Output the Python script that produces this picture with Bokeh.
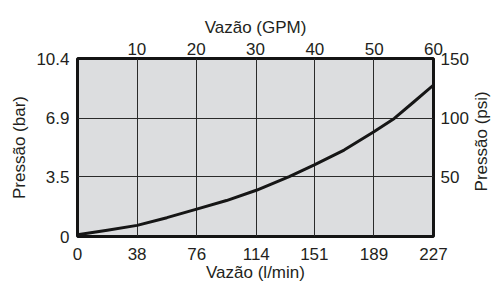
import math
from bokeh.plotting import figure
from bokeh.models import Range1d, LinearAxis, FixedTicker, NumeralTickFormatter
from bokeh.embed import file_html
from bokeh.resources import INLINE

# ---- data ----
flow_lpm = [0, 19, 38, 57, 76, 95, 114, 135, 151, 170, 189, 202, 214, 227]
pressure_bar = [0.1, 0.37, 0.65, 1.1, 1.6, 2.1, 2.7, 3.5, 4.18, 5.05, 6.12, 6.9, 7.83, 8.85]

lpm_ticks = [0, 38, 76, 114, 151, 189, 227]
bar_ticks = [0, 3.5, 6.9, 10.4]
gpm_ticks = [10, 20, 30, 40, 50, 60]
psi_ticks = [50, 100, 150]

x_label_bottom = "Vazão (l/min)"
x_label_top = "Vazão (GPM)"
y_label_left = "Pressão (bar)"
y_label_right = "Pressão (psi)"

# layout constant: psi level where the (bottom-to-top) right title starts
RIGHT_TITLE_START = 38

FONT = "Liberation Sans"
TXT = "#231f20"
FS = "17px"

p = figure(width=503, height=287, output_backend="svg", toolbar_location=None,
           title=None,
           x_range=Range1d(0, 227), y_range=Range1d(0, 10.4),
           min_border_left=77, min_border_right=66,
           min_border_top=58, min_border_bottom=51)

p.background_fill_color = "#dcdddf"
p.border_fill_color = "white"
p.outline_line_color = "#141414"
p.outline_line_width = 3

p.extra_x_ranges = {"gpm": Range1d(0, 60)}
p.extra_y_ranges = {"psi": Range1d(0, 150)}

bottom = p.below[0]
left = p.left[0]

bottom.ticker = FixedTicker(ticks=lpm_ticks)
left.ticker = FixedTicker(ticks=bar_ticks)
left.formatter = NumeralTickFormatter(format="0.[0]")
p.xgrid.ticker = FixedTicker(ticks=lpm_ticks)
p.ygrid.ticker = FixedTicker(ticks=bar_ticks)
for g in (p.xgrid, p.ygrid):
    g.grid_line_color = "#2a2a2a"
    g.grid_line_width = 1

bottom.axis_label = x_label_bottom
left.axis_label = y_label_left

top = LinearAxis(x_range_name="gpm", ticker=FixedTicker(ticks=gpm_ticks),
                 axis_label=x_label_top)
p.add_layout(top, "above")
right = LinearAxis(y_range_name="psi", ticker=FixedTicker(ticks=psi_ticks))
p.add_layout(right, "right")

# outer right axis that only carries the rotated title (reads bottom to top)
right_title = LinearAxis(y_range_name="psi",
                         ticker=FixedTicker(ticks=[RIGHT_TITLE_START]),
                         major_label_overrides={RIGHT_TITLE_START: y_label_right},
                         major_label_orientation=math.pi / 2)
p.add_layout(right_title, "right")

for ax in (bottom, left, top, right, right_title):
    ax.axis_line_color = None
    ax.major_tick_line_color = None
    ax.minor_tick_line_color = None
    ax.major_tick_out = 0
    ax.major_tick_in = 0
    ax.minor_tick_out = 0
    ax.minor_tick_in = 0
    ax.major_label_text_font = FONT
    ax.major_label_text_font_size = FS
    ax.major_label_text_color = TXT
    ax.axis_label_text_font = FONT
    ax.axis_label_text_font_size = FS
    ax.axis_label_text_font_style = "normal"
    ax.axis_label_text_color = TXT

bottom.major_label_standoff = 11
bottom.axis_label_standoff = 0
top.major_label_standoff = 4
top.axis_label_standoff = 3
left.major_label_standoff = 8
left.axis_label_standoff = 4
right.major_label_standoff = 7
right_title.major_label_standoff = 10

p.line(flow_lpm, pressure_bar, line_width=3, line_color="#161616",
       line_join="round", line_cap="round")

open("out.html", "w").write(file_html(p, INLINE))
